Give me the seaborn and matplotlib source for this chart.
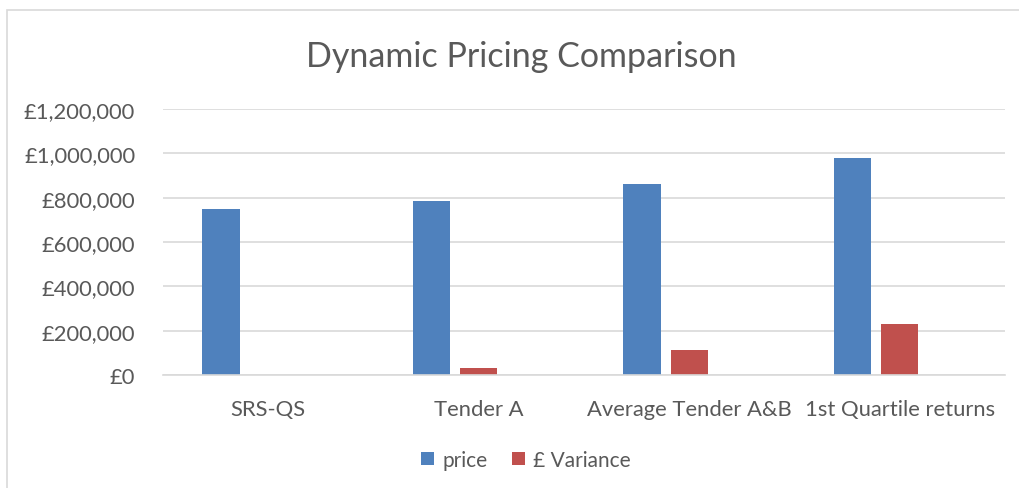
import numpy as np
import pandas as pd
import matplotlib
matplotlib.use('Agg')
import matplotlib.pyplot as plt
import seaborn as sns
from matplotlib.patches import Patch, Rectangle
from matplotlib.ticker import FuncFormatter, MultipleLocator

# chart data
categories = ['SRS-QS', 'Tender A', 'Average Tender A&B', '1st Quartile returns']
price = [749000, 783500, 861500, 980500]
variance = [0, 32000, 111500, 229000]
series_names = ['price', '£ Variance']
colors = ['#4F81BD', '#C0504D']

sns.set_style('white')
plt.rcParams['font.family'] = ['Lato', 'DejaVu Sans']

df = pd.DataFrame({
    'category': categories * 2,
    'series': [series_names[0]] * len(categories) + [series_names[1]] * len(categories),
    'value': price + variance,
})

# Excel chart has a third (empty) series slot after the two visible ones
hue_order = series_names + [' ']
palette = dict(zip(hue_order, colors + ['#9BBB59']))

fig = plt.figure(figsize=(10.19, 4.89), dpi=100)
ax = fig.add_axes([163 / 1019, 1 - 376 / 489, (1005 - 163) / 1019, (376 - 110) / 489])

sns.barplot(data=df, x='category', y='value', hue='series', hue_order=hue_order,
            palette=palette, order=categories, width=0.673, gap=0.21, saturation=1,
            linewidth=0, edgecolor='none', legend=False, ax=ax)

text_col = '#595959'
ax.set_ylim(0, 1200000)
ax.yaxis.set_major_locator(MultipleLocator(200000))
ax.yaxis.set_major_formatter(FuncFormatter(lambda v, p: f'£{v:,.0f}'))
ax.set_xlim(-0.5, len(categories) - 0.5)
ax.yaxis.grid(True, color='#d9d9d9', linewidth=1.2)
ax.set_axisbelow(True)
for s in ['top', 'right', 'left']:
    ax.spines[s].set_visible(False)
ax.spines['bottom'].set_color('#d9d9d9')
ax.spines['bottom'].set_linewidth(1.2)
ax.tick_params(axis='both', length=0, labelsize=15.8, colors=text_col)
ax.tick_params(axis='x', pad=17)
ax.tick_params(axis='y', pad=20)
ax.set_xlabel('')
ax.set_ylabel('')

fig.text(521 / 1019, 1 - 57 / 489, 'Dynamic Pricing Comparison', ha='center', va='center',
         fontsize=24.5, color=text_col)

handles = [Patch(facecolor=c, edgecolor='none') for c in colors]
fig.legend(handles, series_names, loc='center', bbox_to_anchor=(526 / 1019, 1 - 461 / 489),
           ncol=2, frameon=False, fontsize=15, labelcolor=text_col, handlelength=0.6,
           handleheight=0.6, handletextpad=0.4, columnspacing=1.2)

fig.patches.append(Rectangle((7 / 1019, -0.1), 1.1, 1 - 11 / 489 + 0.1, transform=fig.transFigure,
                             fill=False, edgecolor='#d9d9d9', linewidth=1.2))

fig.savefig('out.png', dpi=100)
